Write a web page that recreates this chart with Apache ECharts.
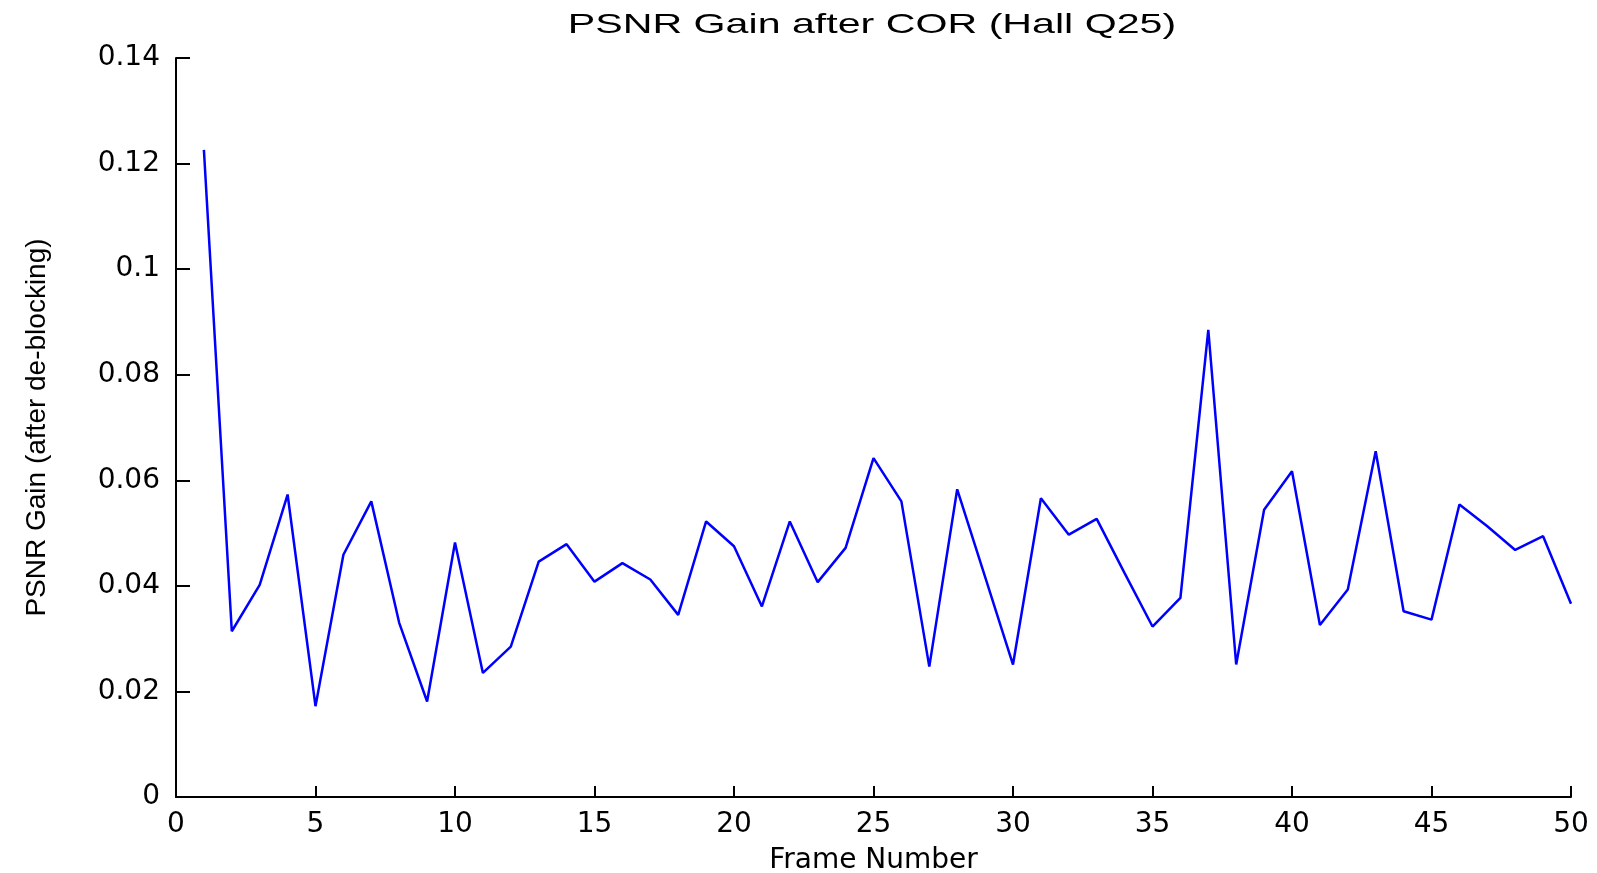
<!DOCTYPE html>
<html>
<head>
<meta charset="utf-8">
<script src="https://cdn.jsdelivr.net/npm/echarts@6/dist/echarts.min.js"></script>
<style>
html,body{margin:0;padding:0;background:#fff;}
#chart{width:1597px;height:873px;}
</style>
</head>
<body>
<div id="chart"></div>
<script>
const titleText = 'PSNR Gain after COR (Hall Q25)';
const xAxisName = 'Frame Number';
const yAxisName = 'PSNR Gain (after de-blocking)';
const frames = [1,2,3,4,5,6,7,8,9,10,11,12,13,14,15,16,17,18,19,20,21,22,23,24,25,26,27,28,29,30,31,32,33,34,35,36,37,38,39,40,41,42,43,44,45,46,47,48,49,50];
const psnrGain = [0.1226,0.0314,0.0402,0.0573,0.0172,0.0459,0.0560,0.0330,0.0181,0.0482,
                  0.0235,0.0285,0.0446,0.0479,0.0408,0.0443,0.0412,0.0345,0.0522,0.0475,
                  0.0361,0.0522,0.0407,0.0472,0.0642,0.0560,0.0247,0.0583,0.0417,0.0251,
                  0.0566,0.0497,0.0527,0.0424,0.0323,0.0377,0.0885,0.0251,0.0544,0.0617,
                  0.0326,0.0393,0.0655,0.0352,0.0336,0.0554,0.0513,0.0468,0.0494,0.0366];
const xTicks = [0,5,10,15,20,25,30,35,40,45,50];
const yTicks = [0,0.02,0.04,0.06,0.08,0.1,0.12,0.14];

const seriesData = frames.map((f, i) => [f, psnrGain[i]]);

const chart = echarts.init(document.getElementById('chart'), null, {renderer: 'canvas'});
chart.setOption({
  backgroundColor: '#ffffff',
  animation: false,
  grid: {left: 176, right: 26, top: 58, bottom: 76, containLabel: false, outerBoundsMode: 'none'},
  graphic: [{
    type: 'text',
    x: 872, y: 25,
    scaleX: 1.47,
    style: {
      text: titleText,
      x: 0, y: 0,
      fill: '#000',
      font: '28px "Liberation Sans", Arial, sans-serif',
      textAlign: 'center',
      textVerticalAlign: 'middle'
    }
  }],
  xAxis: {
    type: 'value',
    min: xTicks[0], max: xTicks[xTicks.length - 1], interval: 5,
    name: xAxisName,
    nameLocation: 'middle',
    nameGap: 50,
    nameTextStyle: {color: '#000', fontSize: 28, fontFamily: '"DejaVu Sans", sans-serif'},
    axisLine: {show: true, onZero: false, lineStyle: {color: '#000', width: 2}},
    axisTick: {show: true, inside: true, length: 11, lineStyle: {color: '#000', width: 2}},
    axisLabel: {color: '#000', fontSize: 28, fontFamily: '"DejaVu Sans", sans-serif', margin: 14},
    splitLine: {show: false}
  },
  yAxis: {
    type: 'value',
    min: yTicks[0], max: yTicks[yTicks.length - 1], interval: 0.02,
    name: yAxisName,
    nameLocation: 'middle',
    nameGap: 125,
    nameRotate: 90,
    nameTextStyle: {color: '#000', fontSize: 28, fontFamily: '"Liberation Sans", Arial, sans-serif'},
    axisLine: {show: true, onZero: false, lineStyle: {color: '#000', width: 2}},
    axisTick: {show: true, inside: true, length: 14, lineStyle: {color: '#000', width: 2}},
    axisLabel: {color: '#000', fontSize: 28, fontFamily: '"DejaVu Sans", sans-serif', margin: 16,
      formatter: v => String(Math.round(v * 100) / 100)},
    splitLine: {show: false}
  },
  series: [{
    type: 'line',
    data: seriesData,
    showSymbol: false,
    symbol: 'none',
    lineStyle: {color: '#0000ff', width: 2.5},
    itemStyle: {color: '#0000ff'}
  }]
});
</script>
</body>
</html>
